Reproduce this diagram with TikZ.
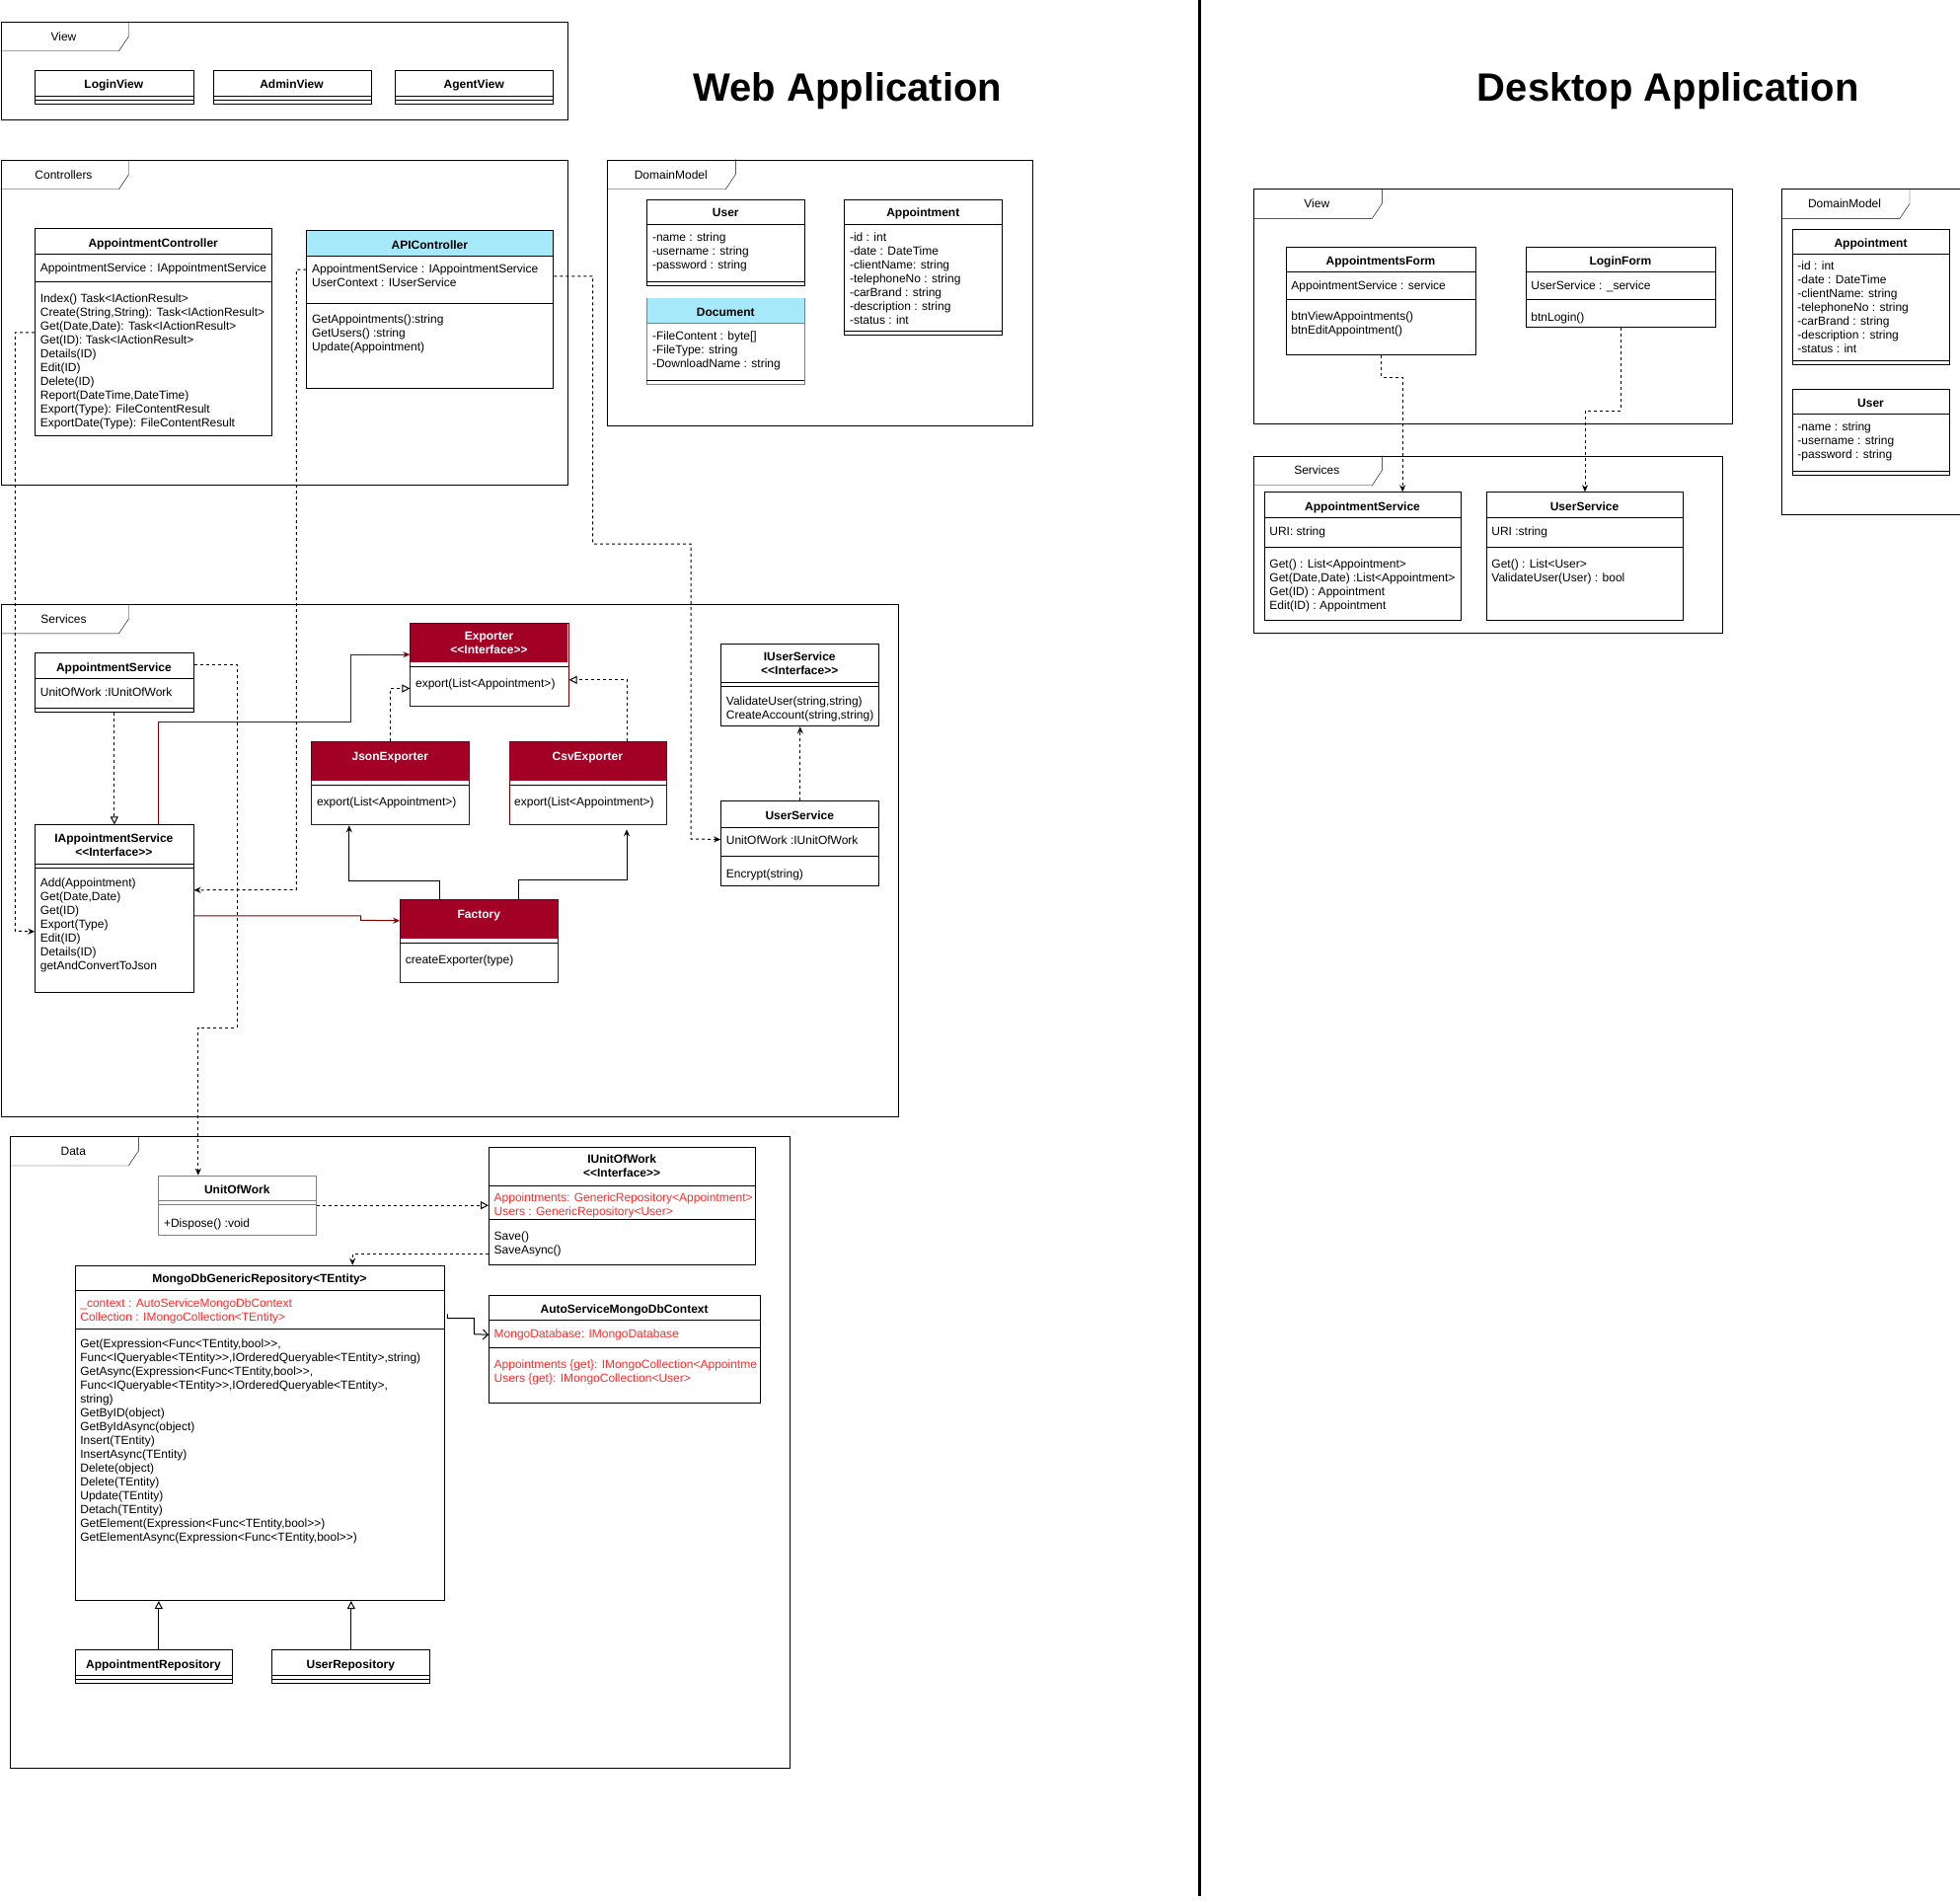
\documentclass[tikz,border=0pt]{standalone}
\usepackage{fontspec}
\setmainfont{Liberation Sans}[Ligatures=TeXOff]
\usetikzlibrary{arrows.meta}
\definecolor{crimson}{RGB}{162,0,37}
\definecolor{darkred}{RGB}{111,0,0}
\definecolor{linkred}{RGB}{128,0,0}
\definecolor{skyfill}{RGB}{166,233,250}
\definecolor{errred}{RGB}{255,45,45}
\begin{document}
\begin{tikzpicture}[x=1pt,y=-1pt]

\tikzset{pkg/.style={draw,rectangle,anchor=north west,inner sep=0pt,line width=1pt},}
\tikzset{cls/.style={draw,rectangle,anchor=north west,inner sep=0pt,line width=1pt,fill=white},}
\tikzset{rcls/.style={cls,draw=darkred},}
\tikzset{gcls/.style={cls,draw=gray},}
\tikzset{ttl/.style={anchor=north,inner sep=0pt,yshift=-1pt,align=center,font=\fontsize{12}{14}\selectfont\bfseries,execute at begin node={\rule{0pt}{9.8pt}}},}
\tikzset{rttl/.style={ttl,text=white},}
\tikzset{txt/.style={anchor=north west,inner sep=0pt,align=left,font=\fontsize{12}{14}\selectfont,execute at begin node={\rule{0pt}{9.8pt}}},}
\tikzset{rtxt/.style={txt,text=errred},}
\tikzset{pkglabel/.style={anchor=center,inner sep=0pt,text height=8.6pt,text depth=0pt,font=\fontsize{12}{14}\selectfont},}
\tikzset{big/.style={anchor=base,inner sep=0pt,yshift=-1.5pt,font=\fontsize{40}{48}\selectfont\bfseries},}
\tikzset{dep/.style={line width=1pt,dash pattern=on 3pt off 3pt},}
\tikzset{realize/.style={dep,-{Triangle[open,length=8pt,width=8pt]}},}
\tikzset{use/.style={dep,-{Stealth[length=7pt,width=6pt]}},}
\tikzset{assoc/.style={line width=1pt,-{Stealth[length=7pt,width=6pt]}},}
\tikzset{inherit/.style={line width=1pt,-{Triangle[open,length=8pt,width=8pt]}},}
\tikzset{redlink/.style={line width=1pt,linkred,-{Stealth[length=7pt,width=6pt]}},}

\useasboundingbox (0,0) rectangle (1986,1925);

%TITOLI
\draw (858.8,101) node[big] (webtitle) {Web Application};
\draw (1690.3,101) node[big] (desktitle) {Desktop Application};
\draw[line width=3pt] (1215.3,0) -- (1215.3,1921);

%VIEW WEB
\draw (0.5,21.7) node[pkg,minimum width=574.5,minimum height=99.3] (webview) {};
\draw (webview.north west) ++(0,30) -- ++(120,0) -- ++(10,-15) -- ++(0,-15);
\draw (64.5,36.7) node[pkglabel] (webview-l) {View};

\draw (35.2,71) node[cls,minimum width=160.3,minimum height=34.3] (lview) {};
\draw (35.2,97.3) -- (195.5,97.3) (35.2,101.3) -- (195.5,101.3);
\draw (115.35,78.8) node[ttl] (lview-t) {LoginView};

\draw (215.5,71) node[cls,minimum width=160,minimum height=34.3] (aview) {};
\draw (215.5,97.3) -- (375.5,97.3) (215.5,101.3) -- (375.5,101.3);
\draw (295.5,78.8) node[ttl] (aview-t) {AdminView};

\draw (400.3,71) node[cls,minimum width=160,minimum height=34.3] (gview) {};
\draw (400.3,97.3) -- (560.3,97.3) (400.3,101.3) -- (560.3,101.3);
\draw (480.3,78.8) node[ttl] (gview-t) {AgentView};

%CONTROLLERS
\draw (0.5,161.7) node[pkg,minimum width=574.5,minimum height=329.6] (ctrl) {};
\draw (ctrl.north west) ++(0,30) -- ++(120,0) -- ++(10,-15) -- ++(0,-15);
\draw (64.5,176.7) node[pkglabel] (ctrl-l) {Controllers};

\draw (35.2,231.3) node[cls,minimum width=240,minimum height=210] (apctrl) {};
\draw (35.2,257.3) -- (275.2,257.3) (35.2,285.3) -- (275.2,285.3);
\draw (155.2,239) node[ttl] (apctrl-t) {AppointmentController};
\draw (40.7,265.2) node[txt] (apctrl-a) {AppointmentService : IAppointmentService};
\draw (40.7,297.2) node[txt] (apctrl-m) {Index() Task<IActionResult>\\Create(String,String): Task<IActionResult>\\Get(Date,Date): Task<IActionResult>\\Get(ID): Task<IActionResult>\\Details(ID)\\Edit(ID)\\Delete(ID)\\Report(DateTime,DateTime)\\Export(Type): FileContentResult\\ExportDate(Type): FileContentResult};

\draw (310.4,233.3) node[cls,minimum width=249.9,minimum height=160] (apictrl) {};
\fill[skyfill] (310.9,233.8) rectangle (559.8,259.3);
\draw (310.4,259.3) -- (560.3,259.3) (310.4,307.3) -- (560.3,307.3);
\draw (435.35,241.2) node[ttl] (apictrl-t) {APIController};
\draw (315.9,267.2) node[txt] (apictrl-a) {AppointmentService : IAppointmentService\\UserContext : IUserService};
\draw (315.9,318.5) node[txt] (apictrl-m) {GetAppointments():string\\GetUsers() :string\\Update(Appointment)};

%DOMAINMODEL WEB
\draw (615.3,161.7) node[pkg,minimum width=430.4,minimum height=269.3] (webdm) {};
\draw (webdm.north west) ++(0,30) -- ++(120,0) -- ++(10,-15) -- ++(0,-15);
\draw (679.8,176.7) node[pkglabel] (webdm-l) {DomainModel};

\draw (655.3,201.7) node[cls,minimum width=160,minimum height=87.6] (user1) {};
\draw (655.3,227.3) -- (815.3,227.3) (655.3,285.3) -- (815.3,285.3);
\draw (735.3,208.8) node[ttl] (user1-t) {User};
\draw (660.8,235.2) node[txt] (user1-a) {-name : string\\-username : string\\-password : string};

\draw (655.3,301.7) node[gcls,minimum width=160,minimum height=87.6] (doc) {};
\fill[skyfill] (655.8,302.2) rectangle (814.8,327.3);
\draw[gray] (655.3,327.3) -- (815.3,327.3);
\draw (655.3,385.3) -- (815.3,385.3);
\draw (735.3,309.2) node[ttl] (doc-t) {Document};
\draw (660.8,335.2) node[txt] (doc-a) {-FileContent : byte[]\\-FileType: string\\-DownloadName : string};

\draw (855.3,201.7) node[cls,minimum width=160,minimum height=137.6] (appt1) {};
\draw (855.3,227.3) -- (1015.3,227.3) (855.3,335.3) -- (1015.3,335.3);
\draw (935.3,208.8) node[ttl] (appt1-t) {Appointment};
\draw (860.8,235.2) node[txt] (appt1-a) {-id : int\\-date : DateTime\\-clientName: string\\-telephoneNo : string\\-carBrand : string\\-description : string\\-status : int};

%SERVICES WEB
\draw (0.5,611.8) node[pkg,minimum width=909.5,minimum height=519.2] (websvc) {};
\draw (websvc.north west) ++(0,30) -- ++(120,0) -- ++(10,-15) -- ++(0,-15);
\draw (64.5,626.8) node[pkglabel] (websvc-l) {Services};

\draw (35.2,661.3) node[cls,minimum width=160.3,minimum height=59.7] (asvc) {};
\draw (35.2,687.3) -- (195.5,687.3) (35.2,717) -- (195.5,717);
\draw (115.35,669.2) node[ttl] (asvc-t) {AppointmentService};
\draw (40.7,695.2) node[txt] (asvc-a) {UnitOfWork :IUnitOfWork};

\draw (35.2,835.3) node[cls,minimum width=160.3,minimum height=170] (iasvc) {};
\draw (35.2,874.7) -- (195.5,874.7) (35.2,878.7) -- (195.5,878.7);
\draw (115.35,843.2) node[ttl] (iasvc-t) {IAppointmentService\\<<Interface>>};
\draw (40.7,889.8) node[txt] (iasvc-m) {Add(Appointment)\\Get(Date,Date)\\Get(ID)\\Export(Type)\\Edit(ID)\\Details(ID)\\getAndConvertToJson};

\draw (415.4,631.3) node[rcls,minimum width=160.2,minimum height=84] (exp) {};
\fill[crimson] (415.9,631.8) rectangle (575.1,670.7);
\draw (415.4,674.7) -- (575.6,674.7);
\draw (495.5,639.2) node[rttl] (exp-t) {Exporter\\<<Interface>>};
\draw (420.9,686.2) node[txt] (exp-m) {export(List<Appointment>)};

\draw (315.3,751.3) node[rcls,minimum width=160,minimum height=84] (jsonex) {};
\fill[crimson] (315.8,751.8) rectangle (474.8,790.7);
\draw (315.3,794.7) -- (475.3,794.7);
\draw (395.3,759.2) node[rttl] (jsonex-t) {JsonExporter};
\draw (320.8,806.2) node[txt] (jsonex-m) {export(List<Appointment>)};

\draw (515.5,751.3) node[rcls,minimum width=159.7,minimum height=84] (csvex) {};
\fill[crimson] (516,751.8) rectangle (674.7,790.7);
\draw (515.5,794.7) -- (675.2,794.7);
\draw (595.35,759.2) node[rttl] (csvex-t) {CsvExporter};
\draw (521,806.2) node[txt] (csvex-m) {export(List<Appointment>)};

\draw (405.2,911.3) node[rcls,minimum width=160.1,minimum height=84] (fac) {};
\fill[crimson] (405.7,911.8) rectangle (564.8,950.7);
\draw (405.2,954.7) -- (565.3,954.7);
\draw (485.25,919.2) node[rttl] (fac-t) {Factory};
\draw (410.7,966.2) node[txt] (fac-m) {createExporter(type)};

\draw (730.2,651.7) node[cls,minimum width=160.1,minimum height=83.6] (iusvc) {};
\draw (730.2,690.7) -- (890.3,690.7) (730.2,694.7) -- (890.3,694.7);
\draw (810.25,659.2) node[ttl] (iusvc-t) {IUserService\\<<Interface>>};
\draw (735.7,705.8) node[txt] (iusvc-m) {ValidateUser(string,string)\\CreateAccount(string,string)};

\draw (730.2,811.3) node[cls,minimum width=160.1,minimum height=86] (usvc) {};
\draw (730.2,837.7) -- (890.3,837.7) (730.2,867.3) -- (890.3,867.3);
\draw (810.25,819.2) node[ttl] (usvc-t) {UserService};
\draw (735.7,845.2) node[txt] (usvc-a) {UnitOfWork :IUnitOfWork};
\draw (735.7,879.2) node[txt] (usvc-m) {Encrypt(string)};

%DATA
\draw (10.3,1151) node[pkg,minimum width=790,minimum height=640.3] (data) {};
\draw (data.north west) ++(0,30) -- ++(120,0) -- ++(10,-15) -- ++(0,-15);
\draw (74.3,1166) node[pkglabel] (data-l) {Data};

\draw (160.3,1190.7) node[gcls,minimum width=160,minimum height=60] (uow) {};
\draw[gray] (160.3,1216.3) -- (320.3,1216.3) (160.3,1220.3) -- (320.3,1220.3);
\draw (240.3,1198.8) node[ttl] (uow-t) {UnitOfWork};
\draw (165.8,1233.2) node[txt] (uow-m) {+Dispose() :void};

\draw (495,1161.7) node[cls,minimum width=270.3,minimum height=119.3] (iuow) {};
\draw (495,1200.7) -- (765.3,1200.7) (495,1235.3) -- (765.3,1235.3);
\draw (630.15,1168.8) node[ttl] (iuow-t) {IUnitOfWork\\<<Interface>>};
\draw (500.5,1208.5) node[rtxt] (iuow-a) {Appointments: GenericRepository<Appointment>\\Users : GenericRepository<User>};
\draw (500.5,1247.8) node[txt] (iuow-m) {Save()\\SaveAsync()};

\draw (75.7,1281.7) node[cls,minimum width=374.6,minimum height=339.3] (repo) {};
\draw (75.7,1307.3) -- (450.3,1307.3) (75.7,1345.7) -- (450.3,1345.7);
\draw (263,1288.8) node[ttl] (repo-t) {MongoDbGenericRepository<TEntity>};
\draw (81.2,1315.2) node[rtxt] (repo-a) {\_context : AutoServiceMongoDbContext\\Collection : IMongoCollection<TEntity>};
\draw (81.2,1356.8) node[txt] (repo-m) {Get(Expression<Func<TEntity,bool>>,\\Func<IQueryable<TEntity>>,IOrderedQueryable<TEntity>,string)\\GetAsync(Expression<Func<TEntity,bool>>,\\Func<IQueryable<TEntity>>,IOrderedQueryable<TEntity>,\\string)\\GetByID(object)\\GetByIdAsync(object)\\Insert(TEntity)\\InsertAsync(TEntity)\\Delete(object)\\Delete(TEntity)\\Update(TEntity)\\Detach(TEntity)\\GetElement(Expression<Func<TEntity,bool>>)\\GetElementAsync(Expression<Func<TEntity,bool>>)};

\draw (495,1311.7) node[cls,minimum width=275.3,minimum height=109.3] (ctx) {};
\draw (495,1337.3) -- (770.3,1337.3) (495,1365.3) -- (770.3,1365.3);
\draw (632.65,1319.5) node[ttl] (ctx-t) {AutoServiceMongoDbContext};
\draw (500.5,1345.2) node[rtxt] (ctx-a) {MongoDatabase: IMongoDatabase};
\draw (500.5,1377.2) node[rtxt] (ctx-m) {Appointments \{get\}: IMongoCollection<Appointme\\Users \{get\}: IMongoCollection<User>};

\draw (75.7,1671.3) node[cls,minimum width=159.6,minimum height=34] (arepo) {};
\draw (75.7,1697.3) -- (235.3,1697.3) (75.7,1701.3) -- (235.3,1701.3);
\draw (155.5,1679.2) node[ttl] (arepo-t) {AppointmentRepository};

\draw (275.3,1671.3) node[cls,minimum width=160,minimum height=34] (urepo) {};
\draw (275.3,1697.3) -- (435.3,1697.3) (275.3,1701.3) -- (435.3,1701.3);
\draw (355.3,1679.2) node[ttl] (urepo-t) {UserRepository};

%VIEW DESKTOP
\draw (1270.3,191.3) node[pkg,minimum width=485,minimum height=237.7] (dview) {};
\draw (dview.north west) ++(0,30) -- ++(120,0) -- ++(10,-15) -- ++(0,-15);
\draw (1334.3,206.3) node[pkglabel] (dview-l) {View};

\draw (1302.7,249.7) node[cls,minimum width=192.6,minimum height=109.6] (aform) {};
\draw (1302.7,275.3) -- (1495.3,275.3) (1302.7,303.3) -- (1495.3,303.3);
\draw (1399,257.2) node[ttl] (aform-t) {AppointmentsForm};
\draw (1308.2,283.2) node[txt] (aform-a) {AppointmentService : service};
\draw (1308.2,315.5) node[txt] (aform-m) {btnViewAppointments()\\btnEditAppointment()};

\draw (1545.7,249.7) node[cls,minimum width=192.3,minimum height=81.6] (lform) {};
\draw (1545.7,275.3) -- (1738,275.3) (1545.7,303.3) -- (1738,303.3);
\draw (1641.85,257.2) node[ttl] (lform-t) {LoginForm};
\draw (1551.2,283.2) node[txt] (lform-a) {UserService : \_service};
\draw (1551.2,315.5) node[txt] (lform-m) {btnLogin()};

%SERVICES DESKTOP
\draw (1270.3,461.7) node[pkg,minimum width=475,minimum height=179.6] (dsvcs) {};
\draw (dsvcs.north west) ++(0,30) -- ++(120,0) -- ++(10,-15) -- ++(0,-15);
\draw (1334.3,476.3) node[pkglabel] (dsvcs-l) {Services};

\draw (1280.7,498.3) node[cls,minimum width=199.6,minimum height=129.7] (dasvc) {};
\draw (1280.7,524.3) -- (1480.3,524.3) (1280.7,554.3) -- (1480.3,554.3);
\draw (1380.5,506.2) node[ttl] (dasvc-t) {AppointmentService};
\draw (1286.2,532.2) node[txt] (dasvc-a) {URI: string};
\draw (1286.2,566.2) node[txt] (dasvc-m) {Get() : List<Appointment>\\Get(Date,Date) :List<Appointment>\\Get(ID) : Appointment\\Edit(ID) : Appointment};

\draw (1505.7,498.3) node[cls,minimum width=199.6,minimum height=129.7] (dusvc) {};
\draw (1505.7,524.3) -- (1705.3,524.3) (1505.7,554.3) -- (1705.3,554.3);
\draw (1605.5,506.2) node[ttl] (dusvc-t) {UserService};
\draw (1511.2,532.2) node[txt] (dusvc-a) {URI :string};
\draw (1511.2,566.2) node[txt] (dusvc-m) {Get() : List<User>\\ValidateUser(User) : bool};

%DOMAINMODEL DESKTOP
\draw (1805,191.3) node[pkg,minimum width=180.5,minimum height=329.4] (ddm) {};
\draw (ddm.north west) ++(0,30) -- ++(120,0) -- ++(10,-15) -- ++(0,-15);
\draw (1869,206.3) node[pkglabel] (ddm-l) {DomainModel};

\draw (1815.7,231.7) node[cls,minimum width=159.6,minimum height=137.6] (appt2) {};
\draw (1815.7,257.3) -- (1975.3,257.3) (1815.7,365.3) -- (1975.3,365.3);
\draw (1895.5,239.2) node[ttl] (appt2-t) {Appointment};
\draw (1821.2,264.5) node[txt] (appt2-a) {-id : int\\-date : DateTime\\-clientName: string\\-telephoneNo : string\\-carBrand : string\\-description : string\\-status : int};

\draw (1815.7,393.7) node[cls,minimum width=159.6,minimum height=87.6] (user2) {};
\draw (1815.7,419) -- (1975.3,419) (1815.7,477.3) -- (1975.3,477.3);
\draw (1895.5,401.2) node[ttl] (user2-t) {User};
\draw (1821.2,427.8) node[txt] (user2-a) {-name : string\\-username : string\\-password : string};

%COLLEGAMENTI
\draw[realize] (asvc.south) -- (iasvc.north);
\draw[redlink] ([xshift=45]iasvc.north) |- (355.5,731.3) |- ([yshift=10.6]exp.west);
\draw[redlink] ([yshift=-7]iasvc.east) -| (365.5,932.3) -- ([yshift=21]fac.west);
\draw[realize] (jsonex.north) |- ([yshift=-23.7]exp.west);
\draw[realize] ([xshift=40]csvex.north) |- ([yshift=-15]exp.east);
\draw[assoc] ([xshift=-40]fac.north) -- ++(0,-19) -| ([xshift=-42]jsonex.south);
\draw[assoc] ([xshift=40]fac.north) -- ++(0,-20) -| ([xshift=39.2,yshift=-4]csvex.south);
\draw[use] (usvc.north) -- (iusvc.south);
\draw[use] ([yshift=34]apictrl.east) -| (600.7,551) -| (700.2,850) -- ([yshift=4.3]usvc.west);
\draw[use] ([yshift=40.6]apictrl.west) -| (300.4,901.3) -- ([yshift=19]iasvc.east);
\draw[use] (apctrl.west) -| (15.3,943.3) -- ([yshift=-23]iasvc.west);
\draw[use] ([yshift=18]asvc.east) -| (240.3,1041) -| ([xshift=-40]uow.north);

\draw[realize] (uow.east) -- (uow.east -| iuow.west);
\draw[use] ([yshift=-49]iuow.west) -| ([xshift=93.7]repo.north);
\draw[line width=1pt,-{Straight Barb[length=5pt,width=10pt]}] ([xshift=2,yshift=120.6]repo.east) -- ++(0,4.3) -| (480.3,1351.7) -- ([yshift=14.6]ctx.west);
\draw[inherit] ([xshift=4.8]arepo.north) -- ([xshift=4.8]arepo.north |- repo.south);
\draw[inherit] (urepo.north) -- (urepo.north |- repo.south);

\draw[use] (aform.south) -- ++(0,21.7) -| ([xshift=40.2]dasvc.north);
\draw[use] (lform.south) -- ++(0,83.7) -| (dusvc.north);

\end{tikzpicture}
\end{document}
